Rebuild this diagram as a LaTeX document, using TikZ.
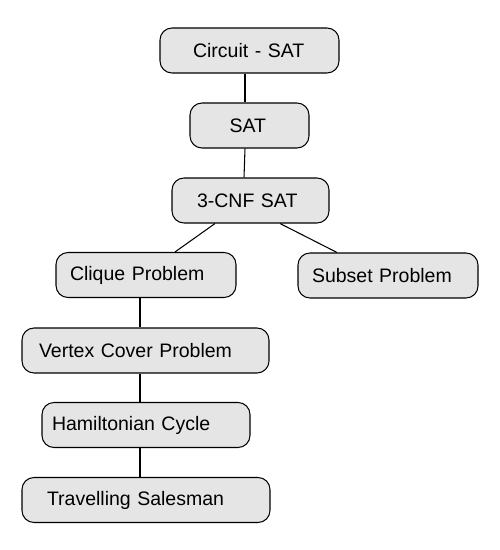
\documentclass[tikz,border=0pt]{standalone}
\usepackage{fontspec}
\setmainfont{Liberation Sans}
\usetikzlibrary{positioning}

\tikzset{
  prob/.style={draw, line width=0.6pt, rounded corners=0.24cm, fill=gray!20,
    minimum height=0.9cm, align=left, font=\fontsize{11.1}{13}\selectfont},
  link/.style={line width=0.6pt}
}

\begin{document}
\begin{tikzpicture}
            \useasboundingbox (0,0) rectangle (10,-11);
            \node[prob, inner xsep=0.66cm, text width=2.26cm] (circuit) at (4.99,-1.01) {Circuit - SAT};
            \node[prob, inner xsep=0.79cm, text width=0.80cm] (sat) at (4.99,-2.51) {SAT};
            \node[prob, inner xsep=0.50cm, text width=2.14cm] (cnf) at (5.01,-4.01) {3-CNF SAT};
            \node[prob, inner xsep=0.28cm, text width=3.04cm] (clique) at (2.92,-5.50) {Clique Problem};
            \node[prob, inner xsep=0.28cm, text width=3.04cm] (subset) at (7.76,-5.51) {Subset Problem};
            \node[prob, inner xsep=0.34cm, text width=4.26cm] (vertex) at (2.91,-7.01) {Vertex Cover Problem};
            \node[prob, inner xsep=0.20cm, text width=3.76cm] (hamilton) at (2.92,-8.50) {Hamiltonian Cycle};
            \node[prob, inner xsep=0.50cm, text width=3.96cm] (travel) at (2.92,-10.00) {Travelling Salesman};
            \draw[link] ([xshift=-0.09cm]circuit.south) -- ([xshift=-0.09cm]sat.north);
            \draw[link] ([xshift=-0.09cm]sat.south) -- ([xshift=-0.13cm]cnf.north);
            \draw[link] ([xshift=-0.71cm]cnf.south) -- ([xshift=0.58cm]clique.north);
            \draw[link] ([xshift=0.59cm]cnf.south) -- ([xshift=-1.02cm]subset.north);
            \draw[link] ([xshift=-0.12cm]clique.south) -- ([xshift=-0.11cm]vertex.north);
            \draw[link] ([xshift=-0.11cm]vertex.south) -- ([xshift=-0.12cm]hamilton.north);
            \draw[link] ([xshift=-0.12cm]hamilton.south) -- ([xshift=-0.12cm]travel.north);
        \end{tikzpicture}
\end{document}
